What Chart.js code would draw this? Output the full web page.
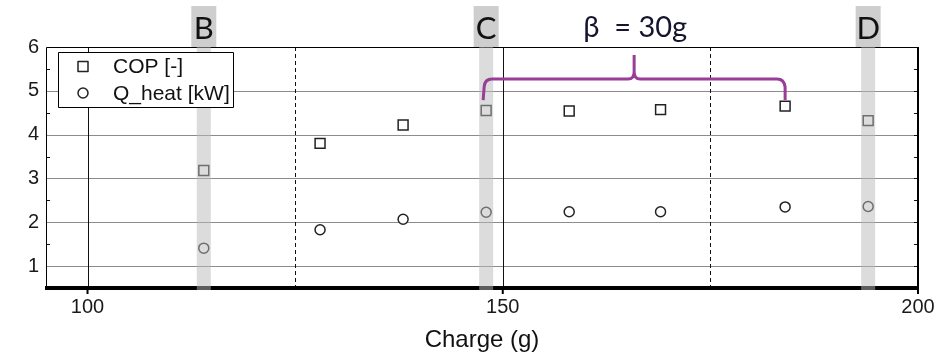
<!DOCTYPE html>
<html>
<head>
<meta charset="utf-8">
<script src="https://cdn.jsdelivr.net/npm/chart.js@4.4.1/dist/chart.umd.min.js"></script>
<style>
  html, body { margin: 0; padding: 0; background: #fff; }
  #wrap { width: 942px; height: 358px; }
</style>
</head>
<body>
<div id="wrap"><canvas id="chart" width="942" height="358"></canvas></div>
<script>
// data
const charge = [114, 128, 138, 148, 158, 169, 184, 194];
const cop = [3.18, 3.80, 4.22, 4.55, 4.54, 4.57, 4.65, 4.32];
const qHeat = [1.41, 1.83, 2.07, 2.23, 2.24, 2.24, 2.35, 2.36];

const xGrid = [100, 125, 150, 175, 200];
const xLabels = [100, 150, 200];
const xDashed = [125, 175];
const yTicks = [1, 2, 3, 4, 5, 6];

// highlighted test points
const markLabels = ['B', 'C', 'D'];
const markCharge = [114, 148, 194];

// brace between C and the 184 g point
const braceFrom = 148;
const braceTo = 184;
const braceLow = 4.79;
const braceMid = 5.27;
const braceTop = 5.82;
const braceText = 'β  = 30g';

const legendItems = ['COP [-]', 'Q_heat [kW]'];

const tickFont = '"Liberation Sans", Arial, sans-serif';
const noteFont = 'Lato, "Open Sans", sans-serif';
const purple = '#993d97';

function drawMarker(ctx, style, x, y) {
  ctx.save();
  ctx.lineWidth = 1.5;
  ctx.strokeStyle = '#222';
  ctx.fillStyle = '#fff';
  ctx.beginPath();
  if (style === 'rect') ctx.rect(x - 5, y - 5, 10, 10);
  else ctx.arc(x, y, 5, 0, Math.PI * 2);
  ctx.fill();
  ctx.stroke();
  ctx.restore();
}

// axes frame, grid lines and minor ticks
const framePlugin = {
  id: 'frame',
  beforeDatasetsDraw(chart) {
    const { ctx, chartArea: a, scales: { x, y } } = chart;
    ctx.save();
    // horizontal grid
    ctx.strokeStyle = '#8c8c8c';
    ctx.lineWidth = 1;
    yTicks.forEach(v => {
      if (v >= 6) return;
      const py = Math.round(y.getPixelForValue(v)) + 0.5;
      ctx.beginPath(); ctx.moveTo(a.left, py); ctx.lineTo(a.right, py); ctx.stroke();
    });
    // vertical grid
    ctx.strokeStyle = '#111';
    xGrid.forEach(v => {
      if (v >= 200) return;
      const px = Math.round(x.getPixelForValue(v)) + 0.5;
      ctx.setLineDash(xDashed.includes(v) ? [4, 3] : []);
      ctx.beginPath(); ctx.moveTo(px, a.top); ctx.lineTo(px, a.bottom); ctx.stroke();
    });
    ctx.setLineDash([]);
    // minor y ticks (every 0.5)
    for (let v = 1; v < 6; v += 0.5) {
      const py = Math.round(y.getPixelForValue(v)) + 0.5;
      ctx.beginPath(); ctx.moveTo(a.right - 4, py); ctx.lineTo(a.right, py); ctx.stroke();
      if (v % 1 !== 0) {
        ctx.beginPath(); ctx.moveTo(a.left, py); ctx.lineTo(a.left + 4, py); ctx.stroke();
      }
    }
    // border
    ctx.strokeStyle = '#000';
    ctx.lineWidth = 1;
    ctx.beginPath();
    ctx.moveTo(Math.round(a.left) + 0.5, a.bottom);
    ctx.lineTo(Math.round(a.left) + 0.5, Math.round(a.top) + 0.5);
    ctx.lineTo(a.right, Math.round(a.top) + 0.5);
    ctx.stroke();
    ctx.lineWidth = 2;
    ctx.beginPath(); ctx.moveTo(a.right, a.top); ctx.lineTo(a.right, a.bottom + 5); ctx.stroke();
    // thick bottom axis with ticks
    ctx.lineWidth = 4;
    ctx.beginPath(); ctx.moveTo(a.left - 1, a.bottom); ctx.lineTo(a.right + 1, a.bottom); ctx.stroke();
    ctx.lineWidth = 2;
    xLabels.forEach(v => {
      const px = x.getPixelForValue(v);
      ctx.beginPath(); ctx.moveTo(px, a.bottom); ctx.lineTo(px, a.bottom + 6); ctx.stroke();
    });
    ctx.restore();
  }
};

// grey bands, letters, brace and legend
const notesPlugin = {
  id: 'notes',
  afterDatasetsDraw(chart) {
    const { ctx, chartArea: a, scales: { x, y } } = chart;
    ctx.save();
    markCharge.forEach((c, i) => {
      const px = x.getPixelForValue(c);
      ctx.fillStyle = 'rgba(185,185,185,0.5)';
      ctx.fillRect(px - 7, a.top, 14, a.bottom - a.top + 2);
      ctx.fillStyle = 'rgba(180,180,180,0.65)';
      ctx.fillRect(px - 12.5, a.top - 41, 25, 41);
      ctx.fillStyle = '#111';
      ctx.font = '31px ' + noteFont;
      ctx.textAlign = 'center';
      ctx.textBaseline = 'alphabetic';
      ctx.fillText(markLabels[i], px, a.top - 8);
    });

    // brace
    const xl = x.getPixelForValue(braceFrom) - 3;
    const xr = x.getPixelForValue(braceTo);
    const xm = (xl + xr) / 2;
    const yl = y.getPixelForValue(braceLow);
    const ym = y.getPixelForValue(braceMid);
    const yt = y.getPixelForValue(braceTop);
    ctx.strokeStyle = purple;
    ctx.lineWidth = 3;
    ctx.lineJoin = 'round';
    ctx.beginPath();
    ctx.moveTo(xl, yl);
    ctx.lineTo(xl + 1, ym + 8);
    ctx.quadraticCurveTo(xl + 1.5, ym, xl + 9, ym);
    ctx.lineTo(xm - 6, ym);
    ctx.quadraticCurveTo(xm, ym, xm, ym - 7);
    ctx.lineTo(xm, yt);
    ctx.moveTo(xm, ym - 7);
    ctx.quadraticCurveTo(xm, ym, xm + 6, ym);
    ctx.lineTo(xr - 8, ym);
    ctx.quadraticCurveTo(xr - 1, ym, xr, ym + 8);
    ctx.lineTo(xr, yl);
    ctx.stroke();
    ctx.fillStyle = '#14142e';
    ctx.font = '29px ' + noteFont;
    ctx.textAlign = 'center';
    ctx.fillText(braceText, xm + 1, a.top - 10);

    // legend
    const lx = a.left + 12.5, ly = a.top + 5.5;
    ctx.fillStyle = '#fff';
    ctx.fillRect(lx, ly, 175, 55);
    ctx.strokeStyle = '#000';
    ctx.lineWidth = 1;
    ctx.strokeRect(lx, ly, 175, 55);
    ['rect', 'circle'].forEach((s, i) => {
      const cy = ly + 14 + i * 26.5;
      drawMarker(ctx, s, lx + 24.5, cy);
      ctx.fillStyle = '#111';
      ctx.font = '21px ' + tickFont;
      ctx.textAlign = 'left';
      ctx.textBaseline = 'middle';
      ctx.fillText(legendItems[i], lx + 54.5, cy + 1);
    });
    ctx.restore();
  }
};

new Chart(document.getElementById('chart').getContext('2d'), {
  type: 'scatter',
  data: {
    datasets: [
      {
        label: legendItems[0],
        data: charge.map((c, i) => ({ x: c, y: cop[i] })),
        pointStyle: 'rect',
        pointRadius: 7,
        pointBorderWidth: 1.5,
        pointBorderColor: '#222',
        pointBackgroundColor: '#fff'
      },
      {
        label: legendItems[1],
        data: charge.map((c, i) => ({ x: c, y: qHeat[i] })),
        pointStyle: 'circle',
        pointRadius: 5,
        pointBorderWidth: 1.5,
        pointBorderColor: '#222',
        pointBackgroundColor: '#fff'
      }
    ]
  },
  options: {
    responsive: false,
    animation: false,
    devicePixelRatio: 1,
    layout: { padding: { top: 47, right: 24, left: 0, bottom: 0 } },
    plugins: { legend: { display: false }, tooltip: { enabled: false } },
    scales: {
      x: {
        type: 'linear',
        min: 95,
        max: 200,
        afterBuildTicks: s => { s.ticks = xGrid.map(v => ({ value: v })); },
        afterFit: s => { s.height = 70; },
        grid: { display: false, drawTicks: false },
        border: { display: false },
        ticks: {
          autoSkip: false,
          maxRotation: 0,
          padding: 7,
          color: '#1a1a1a',
          font: { family: tickFont, size: 20 },
          callback: v => xLabels.includes(v) ? String(v) : ''
        },
        title: {
          display: true,
          text: 'Charge (g)',
          color: '#111',
          font: { family: tickFont, size: 24 },
          padding: { top: 0, bottom: 3 }
        }
      },
      y: {
        min: 0.5,
        max: 6,
        afterBuildTicks: s => { s.ticks = yTicks.map(v => ({ value: v })); },
        afterFit: s => { s.width = 46; },
        grid: { display: false, drawTicks: false },
        border: { display: false },
        ticks: {
          padding: 7,
          color: '#1a1a1a',
          font: { family: tickFont, size: 20 }
        }
      }
    }
  },
  plugins: [framePlugin, notesPlugin]
});
</script>
</body>
</html>
